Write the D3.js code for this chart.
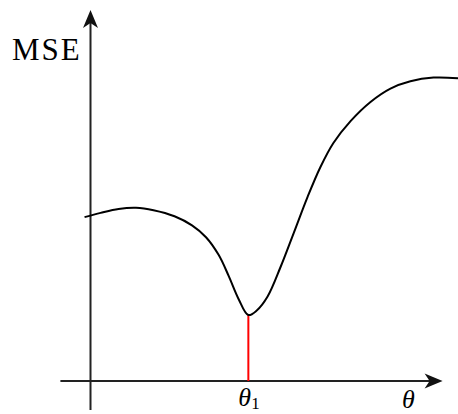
<!DOCTYPE html>
<html>
<head>
<meta charset="utf-8">
<script src="https://cdn.jsdelivr.net/npm/d3@7"></script>
<style>
  html, body { margin: 0; padding: 0; background: #fff; }
  svg { display: block; }
</style>
</head>
<body>
<div id="chart"></div>
<script>
// Parameter values θ and the MSE curve over them
const theta = [-1.7, 2.9, 8.0, 13.0, 18.0, 24.0, 29.0, 33.0, 36.6, 39.5, 42.3, 45.1, 47.5, 50.6, 54.3, 58.0, 62.0, 65.7, 69.4, 74.3, 80.0, 85.7, 91.4, 98.0, 105.0];
const mse   = [53.9, 55.3, 56.6, 57.0, 56.2, 54.2, 51.2, 47.3, 41.5, 34.5, 27.0, 21.7, 23.2, 27.8, 37.5, 48.5, 60.5, 70.4, 78.3, 85.5, 91.8, 96.2, 98.6, 99.8, 99.6];

// Location of the minimum
const theta1 = [45.1];
const mseMin = [21.7];

// Axis extents (data units)
const xAxisExtent = [-8.6, 100.6];
const yAxisExtent = [-9.5, 122];

// Labels
const yLabel = "MSE";
const xLabel = "θ";
const minLabel = ["θ", "1"];

const W = 458, H = 414;

const x = d3.scaleLinear().domain([0, 100]).range([90.5, 440.5]);
const y = d3.scaleLinear().domain([0, 100]).range([381, 77]);

const svg = d3.select("#chart").append("svg")
  .attr("width", W).attr("height", H)
  .attr("viewBox", `0 0 ${W} ${H}`);

const serif = "'Liberation Serif', 'Times New Roman', serif";

// Axes
const x0 = x(0), y0 = y(0);
svg.append("line")
  .attr("x1", x(xAxisExtent[0])).attr("y1", y0)
  .attr("x2", x(xAxisExtent[1]) - 6).attr("y2", y0)
  .attr("stroke", "#222").attr("stroke-width", 2);
svg.append("line")
  .attr("x1", x0).attr("y1", y(yAxisExtent[0]))
  .attr("x2", x0).attr("y2", y(yAxisExtent[1]) + 6)
  .attr("stroke", "#222").attr("stroke-width", 2);

// Arrowheads
function arrowPath(len, half, notch) {
  return `M0,0 L${-len},${-half} L${-len + notch},0 L${-len},${half} Z`;
}
svg.append("path")
  .attr("d", arrowPath(18, 7.5, 5))
  .attr("transform", `translate(${x(xAxisExtent[1])},${y0})`)
  .attr("fill", "#111");
svg.append("path")
  .attr("d", arrowPath(18, 7.5, 5))
  .attr("transform", `translate(${x0},${y(yAxisExtent[1])}) rotate(-90)`)
  .attr("fill", "#111");

// Red drop line from minimum to the θ axis
svg.append("line")
  .attr("x1", x(theta1[0])).attr("y1", y(mseMin[0]))
  .attr("x2", x(theta1[0])).attr("y2", y0)
  .attr("stroke", "#ff0000").attr("stroke-width", 2);

// MSE curve
const pts = theta.map((t, i) => [t, mse[i]]);
const line = d3.line()
  .x(d => x(d[0])).y(d => y(d[1]))
  .curve(d3.curveCatmullRom.alpha(0.5));
svg.append("path")
  .datum(pts)
  .attr("d", line)
  .attr("fill", "none")
  .attr("stroke", "#000")
  .attr("stroke-width", 2)
  .attr("stroke-linejoin", "round");

// Labels
svg.append("text")
  .attr("x", 12).attr("y", 60)
  .attr("font-family", serif).attr("font-size", 31)
  .attr("letter-spacing", 2)
  .attr("fill", "#000")
  .text(yLabel);

const tMin = svg.append("text")
  .attr("x", x(theta1[0]) - 10).attr("y", 406)
  .attr("font-family", serif).attr("font-size", 26)
  .attr("font-style", "italic").attr("fill", "#000");
tMin.append("tspan").text(minLabel[0]);
tMin.append("tspan").attr("font-style", "normal").attr("font-size", 17)
  .attr("dy", 3).text(minLabel[1]);

svg.append("text")
  .attr("x", 402).attr("y", 408)
  .attr("font-family", serif).attr("font-size", 26)
  .attr("font-style", "italic").attr("fill", "#000")
  .text(xLabel);
</script>
</body>
</html>
